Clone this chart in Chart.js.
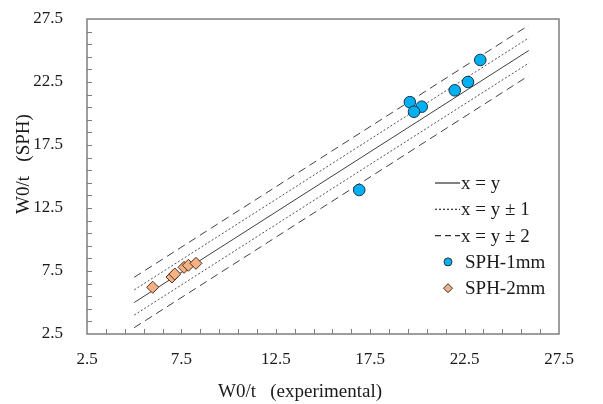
<!DOCTYPE html>
<html>
<head>
<meta charset="utf-8">
<script src="https://cdn.jsdelivr.net/npm/chart.js@4.4.0/dist/chart.umd.min.js"></script>
<style>
  html, body { margin: 0; padding: 0; background: #fff; }
  #wrap { width: 603px; height: 404px; }
</style>
</head>
<body>
<div id="wrap"><canvas id="myChart" width="603" height="404"></canvas></div>
<script>
// reference lines (ends)
const lineX = [5, 25.9];
const lineY = [5, 25];
const linePlus1 = [6, 26];
const lineMinus1 = [4, 24];
const linePlus2 = [7, 27];
const lineMinus2 = [3, 23];

// measured points
const sph1X = [23.33, 22.68, 21.98, 19.6, 20.23, 19.82, 16.92];
const sph1Y = [24.25, 22.5, 21.84, 20.9, 20.54, 20.14, 13.93];
const sph2X = [5.98, 7.0, 7.15, 7.64, 7.87, 8.27];
const sph2Y = [6.21, 7.02, 7.26, 7.79, 7.95, 8.11];

const tickLabels = [2.5, 7.5, 12.5, 17.5, 22.5, 27.5];

const FONT = "'Liberation Serif', 'Times New Roman', serif";
const TXT = "#1a1a1a";

const pts = (xs, ys) => xs.map((x, i) => ({ x: x, y: ys[i] }));

const lineSet = (ys, dash, color) => ({
    data: pts(lineX, ys),
    showLine: true,
    borderColor: color,
    borderWidth: 1,
    borderDash: dash,
    pointRadius: 0,
    order: 2,
});

// inward ticks, plot frame, axis titles and legend
const decor = {
    id: "decor",
    afterDraw(chart) {
        const c = chart.ctx;
        const a = chart.chartArea;
        const xs = chart.scales.x;
        const ys = chart.scales.y;
        c.save();
        c.strokeStyle = "#7f7f7f";
        c.lineWidth = 1;
        for (let v = 3.5; v < 27.5; v += 1) {
            const px = Math.round(xs.getPixelForValue(v)) + 0.5;
            c.beginPath();
            c.moveTo(px, a.bottom);
            c.lineTo(px, a.bottom - 5);
            c.stroke();
            const py = Math.round(ys.getPixelForValue(v)) + 0.5;
            c.beginPath();
            c.moveTo(a.left, py);
            c.lineTo(a.left + 5, py);
            c.stroke();
        }
        c.lineWidth = 1.5;
        c.strokeRect(a.left, a.top, a.right - a.left, a.bottom - a.top);

        c.fillStyle = TXT;
        c.font = "19px " + FONT;
        c.textAlign = "center";
        c.textBaseline = "middle";
        c.fillText("W0/t   (experimental)", 300, 392);
        c.save();
        c.translate(24, 164);
        c.rotate(-Math.PI / 2);
        c.fillText("W0/t   (SPH)", 0, 0);
        c.restore();

        // legend
        c.textAlign = "left";
        const rows = [
            { t: "x = y", dash: [], kind: "line" },
            { t: "x = y \u00b1 1", dash: [2, 2], kind: "line" },
            { t: "x = y \u00b1 2", dash: [6, 4], kind: "line" },
            { t: "SPH-1mm", kind: "circle" },
            { t: "SPH-2mm", kind: "diamond" },
        ];
        rows.forEach((r, i) => {
            const y = 183 + i * 26.3;
            if (r.kind === "line") {
                c.strokeStyle = "#303030";
                c.lineWidth = 1.2;
                c.setLineDash(r.dash);
                c.beginPath();
                c.moveTo(435, y);
                c.lineTo(460, y);
                c.stroke();
                c.setLineDash([]);
                c.fillText(r.t, 461, y + 1);
            } else {
                c.lineWidth = 1;
                c.strokeStyle = "#333";
                c.beginPath();
                if (r.kind === "circle") {
                    c.fillStyle = "#00b0f0";
                    c.arc(448, y, 4, 0, Math.PI * 2);
                } else {
                    c.fillStyle = "#f4b183";
                    c.moveTo(448, y - 4.5);
                    c.lineTo(452.5, y);
                    c.lineTo(448, y + 4.5);
                    c.lineTo(443.5, y);
                    c.closePath();
                }
                c.fill();
                c.stroke();
                c.fillStyle = TXT;
                c.fillText(r.t, 465, y + 1);
            }
        });
        c.restore();
    },
};

const axisOpts = (isX) => ({
    type: "linear",
    min: 2.5,
    max: 27.5,
    afterBuildTicks: (s) => {
        s.ticks = [];
        for (let v = 2.5; v <= 27.5; v += 1) s.ticks.push({ value: v });
    },
    ticks: {
        autoSkip: false,
        maxRotation: 0,
        color: TXT,
        font: { family: FONT, size: 17 },
        padding: isX ? 15 : 24,
        callback: (v) => (tickLabels.includes(v) ? v.toFixed(1) : ""),
    },
    grid: { display: false, drawTicks: false },
    border: { display: false },
    afterFit: (s) => {
        if (isX) {
            s.height = 70;
            s.paddingLeft = 0;
            s.paddingRight = 0;
        } else {
            s.width = 87;
            s.paddingTop = 0;
            s.paddingBottom = 0;
        }
    },
});

new Chart(document.getElementById("myChart"), {
    type: "scatter",
    data: {
        datasets: [
            {
                label: "SPH-1mm",
                data: pts(sph1X, sph1Y),
                pointStyle: "circle",
                pointRadius: 5.8,
                backgroundColor: "#00b0f0",
                borderColor: "#1f3347",
                borderWidth: 1,
                order: 1,
            },
            {
                label: "SPH-2mm",
                data: pts(sph2X, sph2Y),
                pointStyle: "rectRot",
                pointRadius: 6,
                backgroundColor: "#f4b183",
                borderColor: "#4a3020",
                borderWidth: 1,
                order: 1,
            },
            Object.assign({ label: "x = y" }, lineSet(lineY, [], "#404040")),
            Object.assign({ label: "x = y + 1" }, lineSet(linePlus1, [2, 2], "#505050")),
            Object.assign({ label: "x = y - 1" }, lineSet(lineMinus1, [2, 2], "#505050")),
            Object.assign({ label: "x = y + 2" }, lineSet(linePlus2, [8, 5], "#404040")),
            Object.assign({ label: "x = y - 2" }, lineSet(lineMinus2, [8, 5], "#404040")),
        ],
    },
    options: {
        responsive: false,
        animation: false,
        layout: { padding: { left: 0, top: 19, right: 44, bottom: 0 } },
        scales: { x: axisOpts(true), y: axisOpts(false) },
        plugins: {
            legend: { display: false },
            tooltip: { enabled: false },
        },
    },
    plugins: [decor],
});
</script>
</body>
</html>
